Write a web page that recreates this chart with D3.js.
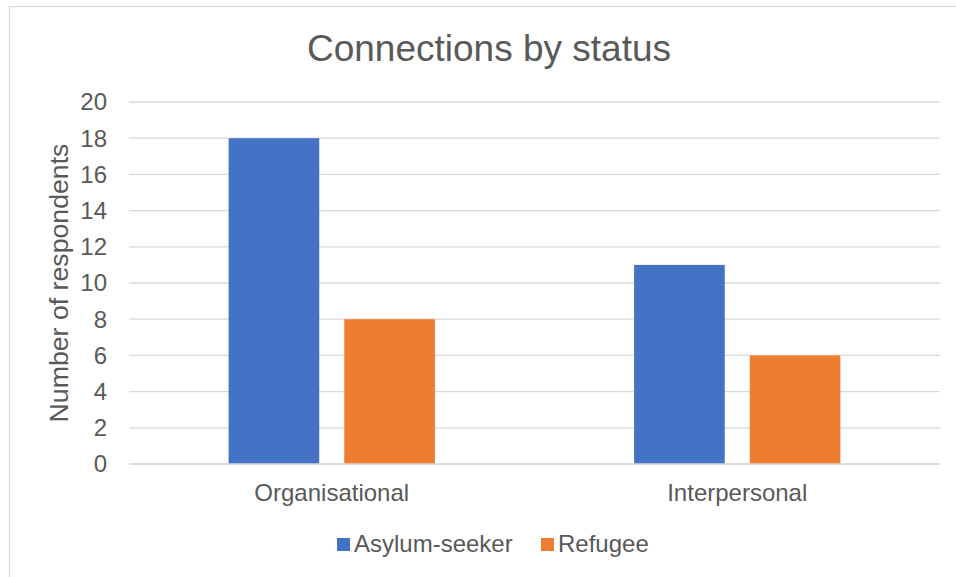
<!DOCTYPE html>
<html><head><meta charset="utf-8">
<script src="https://cdn.jsdelivr.net/npm/d3@7"></script>
<style>body{margin:0;background:#fff}svg{display:block}text{font-family:"Liberation Sans",Arial,sans-serif;fill:#595959}</style>
</head><body>
<script>
const categories = ["Organisational", "Interpersonal"];
const seriesNames = ["Asylum-seeker", "Refugee"];
const asylumSeeker = [18, 11];
const refugee = [8, 6];
const yTicks = [0, 2, 4, 6, 8, 10, 12, 14, 16, 18, 20];
const colors = ["#4472C4", "#ED7D31"];
const seriesValues = [asylumSeeker, refugee];

const W = 956, H = 577;
const m = {left: 129, right: 16, top: 102, bottom: 113};
const svg = d3.select("body").append("svg").attr("width", W).attr("height", H);
svg.append("rect").attr("x", 9.5).attr("y", 6.5).attr("width", W + 10).attr("height", H + 10)
  .attr("fill", "#fff").attr("stroke", "#D9D9D9").attr("stroke-width", 1.3);

const x0 = d3.scaleBand().domain(categories).range([m.left, W - m.right]).paddingInner(0).paddingOuter(0);
const y = d3.scaleLinear().domain([0, 20]).range([H - m.bottom, m.top]);

// gridlines
svg.append("g").selectAll("line").data(yTicks).join("line")
  .attr("x1", m.left).attr("x2", W - m.right)
  .attr("y1", d => y(d)).attr("y2", d => y(d))
  .attr("stroke", "#D9D9D9").attr("stroke-width", 1.3);

// y tick labels
svg.append("g").selectAll("text").data(yTicks).join("text")
  .attr("x", 107).attr("y", d => y(d)).attr("dy", "0.35em")
  .attr("text-anchor", "end").attr("font-size", 24).text(d => d);

// bars
const bw = x0.bandwidth();
const barW = bw * 0.2235, gap = bw * 0.0617;
const x1 = d3.scaleBand().domain(seriesNames).range([0, barW * 2 + gap]).paddingInner(gap / (barW + gap)).paddingOuter(0);
const g = svg.append("g");
categories.forEach((c, i) => {
  const groupW = barW * 2 + gap;
  const gx = x0(c) + (bw - groupW) / 2;
  seriesNames.forEach((s, j) => {
    const v = seriesValues[j][i];
    g.append("rect").attr("x", gx + x1(s)).attr("width", x1.bandwidth())
      .attr("y", y(v)).attr("height", y(0) - y(v)).attr("fill", colors[j]);
  });
});

// x axis line
svg.append("line").attr("x1", m.left).attr("x2", W - m.right)
  .attr("y1", y(0)).attr("y2", y(0)).attr("stroke", "#D9D9D9").attr("stroke-width", 1.3);

// category labels
svg.append("g").selectAll("text").data(categories).join("text")
  .attr("x", d => x0(d) + bw / 2).attr("y", 501)
  .attr("text-anchor", "middle").attr("font-size", 24).text(d => d);

// title
svg.append("text").attr("x", 489).attr("y", 61).attr("text-anchor", "middle")
  .attr("font-size", 37).text("Connections by status");

// y axis title
svg.append("text").attr("transform", "translate(68,283) rotate(-90)")
  .attr("text-anchor", "middle").attr("font-size", 26.7).text("Number of respondents");

// legend
const legX = [337, 541];
const leg = svg.append("g");
seriesNames.forEach((s, j) => {
  leg.append("rect").attr("x", legX[j]).attr("y", 538).attr("width", 13).attr("height", 13).attr("fill", colors[j]);
  leg.append("text").attr("x", legX[j] + 17).attr("y", 552).attr("font-size", 24).text(s);
});
</script>
</body></html>
